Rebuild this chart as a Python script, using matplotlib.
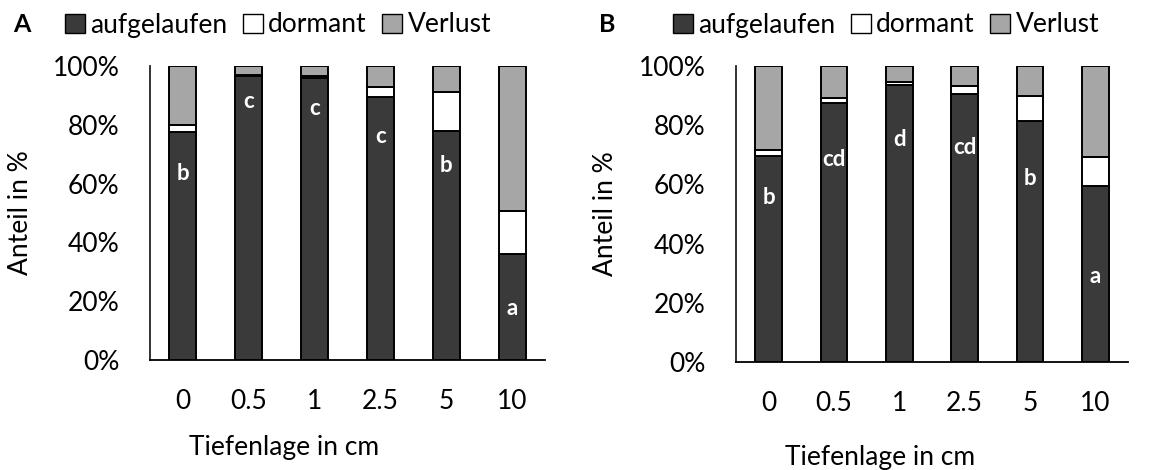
import matplotlib.pyplot as plt
from matplotlib.patches import Patch

plt.rcParams['font.family'] = ['Lato', 'DejaVu Sans']

tiefen = ['0', '0.5', '1', '2.5', '5', '10']

# Panel A
aufgelaufen_A = [77.6, 96.7, 96.0, 89.3, 78.0, 36.0]
dormant_A = [2.4, 0.3, 0.7, 3.5, 13.3, 14.7]
verlust_A = [20.0, 3.0, 3.3, 7.2, 8.7, 49.3]
buchst_A = ['b', 'c', 'c', 'c', 'b', 'a']
buchst_y_A = [63.5, 88, 85.5, 76, 66, 17.5]

# Panel B
aufgelaufen_B = [69.6, 87.6, 93.6, 90.4, 81.5, 59.4]
dormant_B = [2.0, 1.5, 1.1, 2.9, 8.4, 9.9]
verlust_B = [28.4, 10.9, 5.3, 6.7, 10.1, 30.7]
buchst_B = ['b', 'cd', 'd', 'cd', 'b', 'a']
buchst_y_B = [55.5, 68.5, 75, 72.5, 62, 29]

c_auf = '#3a3a3a'
c_dor = '#ffffff'
c_ver = '#a6a6a6'

fig = plt.figure(figsize=(11.6, 4.7), dpi=100)
ax1 = fig.add_axes([150 / 1160, 110 / 470, 395 / 1160, 294 / 470])
ax2 = fig.add_axes([736 / 1160, 108 / 470, 392 / 1160, 296 / 470])


def zeichne(ax, auf, dor, ver, buchst, buchst_y):
    x = range(len(tiefen))
    kw = dict(width=0.41, edgecolor='black', linewidth=1.4)
    ax.bar(x, auf, color=c_auf, **kw)
    ax.bar(x, dor, bottom=auf, color=c_dor, **kw)
    unten = [a + d for a, d in zip(auf, dor)]
    ax.bar(x, ver, bottom=unten, color=c_ver, **kw)
    for i, (b, y) in enumerate(zip(buchst, buchst_y)):
        ax.text(i, y, b, color='white', fontsize=16, fontweight='bold',
                ha='center', va='center')
    ax.set_xlim(-0.5, 5.5)
    ax.set_ylim(0, 100)
    ax.set_xticks(list(x))
    ax.set_xticklabels(tiefen)
    ax.set_yticks(range(0, 101, 20))
    ax.set_yticklabels([f'{v}%' for v in range(0, 101, 20)])
    ax.tick_params(length=0, labelsize=19)
    ax.tick_params(axis='y', pad=22)
    ax.tick_params(axis='x', pad=21)
    for s in ['top', 'right']:
        ax.spines[s].set_visible(False)
    for s in ['left', 'bottom']:
        ax.spines[s].set_linewidth(1.3)
    ax.spines['left'].set_color('#222222')


zeichne(ax1, aufgelaufen_A, dormant_A, verlust_A, buchst_A, buchst_y_A)
zeichne(ax2, aufgelaufen_B, dormant_B, verlust_B, buchst_B, buchst_y_B)

ax1.set_ylabel('Anteil in %', fontsize=19)
ax2.set_ylabel('Anteil in %', fontsize=19)
ax1.yaxis.set_label_coords(-0.296, 0.5)
ax2.yaxis.set_label_coords(-0.301, 0.5)

fig.text(284 / 1160, 1 - 448 / 470, 'Tiefenlage in cm', fontsize=19,
         ha='center', va='center')
fig.text(880 / 1160, 1 - 457 / 470, 'Tiefenlage in cm', fontsize=19,
         ha='center', va='center')

fig.text(22 / 1160, 1 - 25 / 470, 'A', fontsize=18, fontweight='bold',
         ha='center', va='center')
fig.text(607 / 1160, 1 - 25 / 470, 'B', fontsize=18, fontweight='bold',
         ha='center', va='center')

griffe = [Patch(facecolor=c_auf, edgecolor='black', label='aufgelaufen'),
          Patch(facecolor=c_dor, edgecolor='black', label='dormant'),
          Patch(facecolor=c_ver, edgecolor='black', label='Verlust')]
for xpos in [278 / 1160, 886 / 1160]:
    fig.legend(handles=griffe, loc='center', bbox_to_anchor=(xpos, 1 - 25 / 470),
               ncol=3, frameon=False, fontsize=19, handlelength=0.75,
               handleheight=0.75, handletextpad=0.2, columnspacing=0.6,
               borderpad=0)

fig.savefig('out.png', dpi=100)
